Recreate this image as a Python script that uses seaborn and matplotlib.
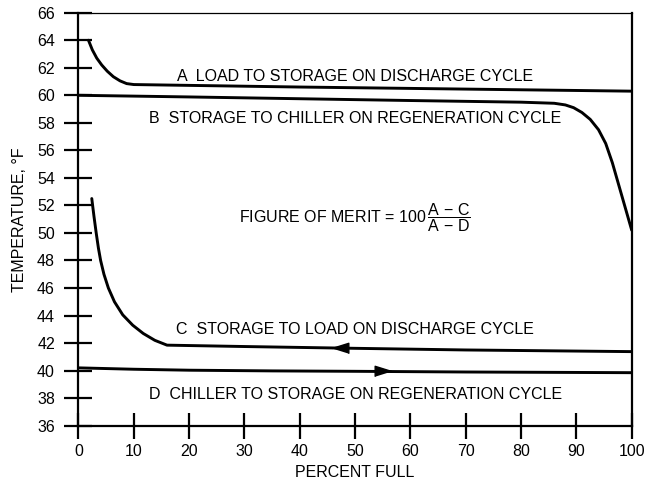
import numpy as np
import pandas as pd
import seaborn as sns
import matplotlib.pyplot as plt

# Curvas (porcentaje lleno, temperatura en °F)
a_x = [1.8, 2.5, 3.3, 4.2, 5.2, 6.3, 7.5, 8.7, 10, 20, 40, 60, 80, 100]
a_t = [64.0, 63.3, 62.7, 62.2, 61.75, 61.35, 61.05, 60.85, 60.78, 60.72, 60.6, 60.5, 60.4, 60.3]

b_x = [0, 20, 40, 60, 80, 86, 88, 89.5, 91, 92.5, 94, 95.3, 96.5, 98, 100]
b_t = [60.0, 59.88, 59.75, 59.62, 59.5, 59.42, 59.3, 59.1, 58.75, 58.25, 57.5, 56.5, 55.1, 53.0, 50.2]

c_x = [2.4, 2.8, 3.2, 3.6, 4.0, 4.6, 5.4, 6.5, 8.0, 9.8, 11.7, 13.8, 16.0, 30, 50, 70, 100]
c_t = [52.5, 51.2, 50.0, 48.9, 48.0, 47.0, 46.0, 45.0, 44.05, 43.3, 42.7, 42.2, 41.85, 41.75, 41.62, 41.5, 41.38]

d_x = [0, 10, 20, 35, 50, 70, 100]
d_t = [40.2, 40.1, 40.03, 39.98, 39.95, 39.9, 39.85]

etiquetas = {
    "A": "A  LOAD TO STORAGE ON DISCHARGE CYCLE",
    "B": "B  STORAGE TO CHILLER ON REGENERATION CYCLE",
    "C": "C  STORAGE TO LOAD ON DISCHARGE CYCLE",
    "D": "D  CHILLER TO STORAGE ON REGENERATION CYCLE",
}

# Estilo
sns.set_theme(style="ticks")
plt.rcParams["font.family"] = ["Liberation Sans", "DejaVu Sans"]
plt.rcParams["mathtext.fontset"] = "custom"
plt.rcParams["mathtext.rm"] = "Liberation Sans"
plt.rcParams["mathtext.it"] = "Liberation Sans:italic"
plt.rcParams["mathtext.bf"] = "Liberation Sans:bold"
plt.rcParams["text.color"] = "black"
plt.rcParams["axes.labelcolor"] = "black"

fig = plt.figure(figsize=(6.45, 4.79), dpi=100)
ax = fig.add_axes([0.1217, 0.1113, 0.8577, 0.8622])

for xs, ts in [(a_x, a_t), (b_x, b_t), (c_x, c_t), (d_x, d_t)]:
    df = pd.DataFrame({"x": xs, "t": ts})
    sns.lineplot(data=df, x="x", y="t", color="black", linewidth=2.1, ax=ax,
                 estimator=None, sort=False)

# Flechas de dirección sobre C (izquierda) y D (derecha)
punta_izq = [(-0.8, 0), (0.8, 0.5), (0.8, -0.5)]
punta_der = [(0.8, 0), (-0.8, 0.5), (-0.8, -0.5)]
flecha_c = 47.3
flecha_d = 55.1
ax.plot(flecha_c, np.interp(flecha_c, c_x, c_t), marker=punta_izq,
        markersize=12, color="black")
ax.plot(flecha_d, np.interp(flecha_d, d_x, d_t), marker=punta_der,
        markersize=12, color="black")

# Textos
fs = 11.5
ax.text(50, 61.04, etiquetas["A"], ha="center", va="baseline", fontsize=fs, color="black")
ax.text(50, 57.97, etiquetas["B"], ha="center", va="baseline", fontsize=fs, color="black")
ax.text(50, 42.64, etiquetas["C"], ha="center", va="baseline", fontsize=fs, color="black")
ax.text(50, 37.92, etiquetas["D"], ha="center", va="baseline", fontsize=fs, color="black")
ax.text(50, 51.1, r"FIGURE OF MERIT = 100$\,\dfrac{\mathrm{A\,-\,C}}{\mathrm{A\,-\,D}}$",
        ha="center", va="center", fontsize=fs, color="black")

# Ejes
ax.set_xlim(0, 100)
ax.set_ylim(36, 66)
ax.set_xticks(range(0, 101, 10))
ax.set_yticks(range(36, 67, 2))
ax.tick_params(axis="y", direction="inout", length=20, width=1.6, pad=7,
               labelsize=fs, colors="black")
ax.tick_params(axis="x", direction="inout", length=19, width=1.6, pad=4,
               labelsize=fs, colors="black")
ax.set_xlabel("PERCENT FULL", fontsize=fs, labelpad=4, color="black")
ax.set_ylabel("TEMPERATURE, °F", fontsize=fs, labelpad=7, color="black")

for lado in ["left", "bottom", "right"]:
    ax.spines[lado].set_linewidth(1.6)
    ax.spines[lado].set_color("black")
ax.spines["top"].set_linewidth(0.9)
ax.spines["top"].set_color("black")

fig.savefig("out.png", dpi=100)
